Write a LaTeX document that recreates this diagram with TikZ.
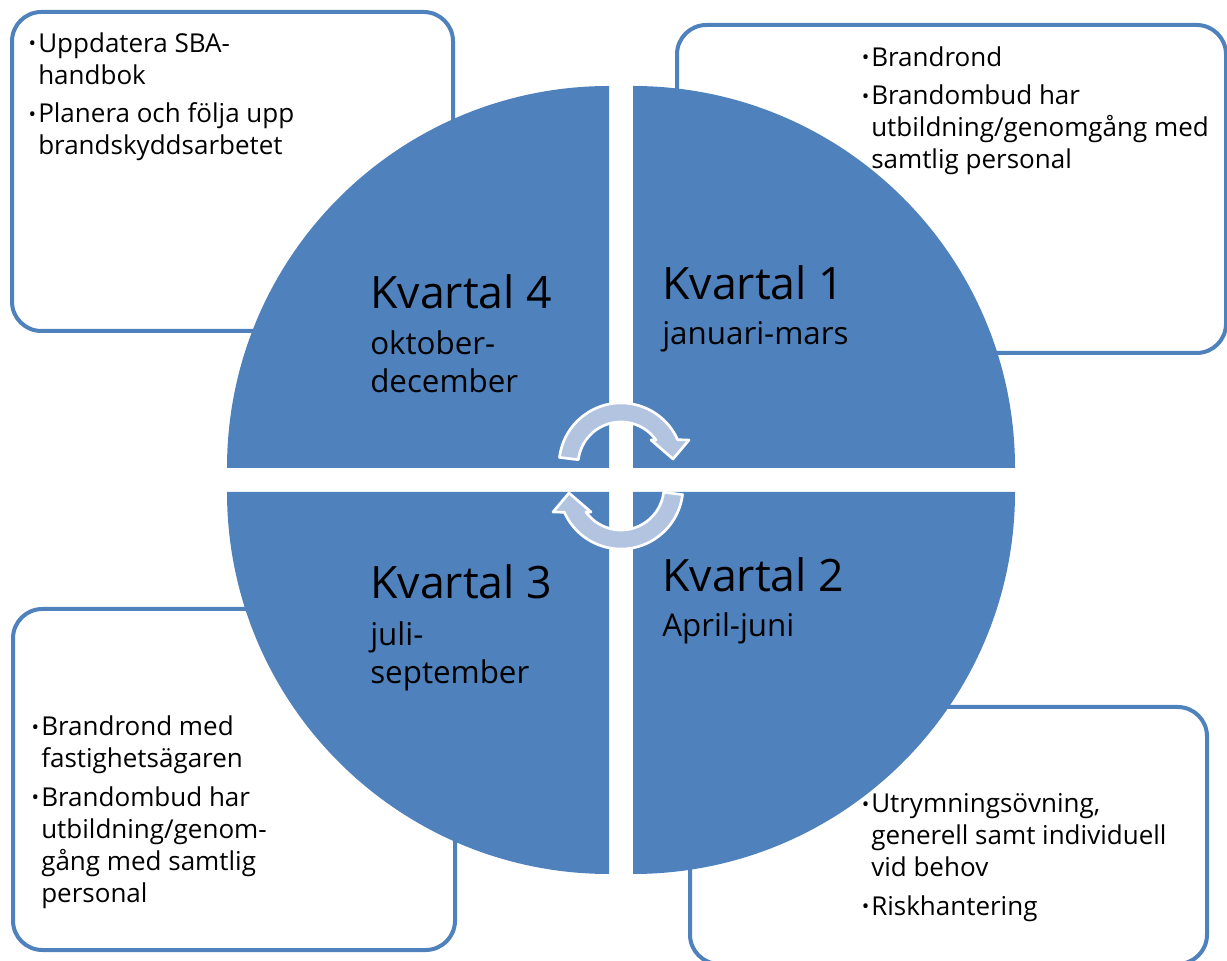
\documentclass[tikz,border=0pt]{standalone}
\usepackage{fontspec}
\setmainfont{Open Sans}
\usetikzlibrary{positioning}
\definecolor{quartblue}{RGB}{79,129,189}
\definecolor{arrowfill}{RGB}{178,196,224}
\newcommand{\bul}{\llap{{\fontsize{15pt}{15pt}\selectfont\raisebox{1pt}{•}}\hspace{1.5pt}}}
\tikzset{
   every path/.style={>=stealth},
   infobox/.style={draw=quartblue,line width=3pt,rounded corners=22pt,fill=white},
   quarter/.style={fill=quartblue},
   cycarrow/.style={fill=arrowfill,draw=white,line width=2pt,line join=round},
   listtext/.style={anchor=base west,align=left,inner sep=0pt,font=\fontsize{19.5pt}{24pt}\selectfont},
   headtext/.style={anchor=base west,inner sep=0pt,font=\fontsize{33.5pt}{40pt}\selectfont},
   subtext/.style={anchor=base west,align=left,inner sep=0pt,font=\fontsize{23.5pt}{28.5pt}\selectfont},
}
\newcommand{\cyclearrow}{%
   (559.5,502.6) arc[start angle=173,end angle=24,radius=62]
   -- (689,520) -- (673,501) -- (651,520) -- (656,520)
   arc[start angle=35.5,end angle=173,radius=43] -- cycle}

\begin{document}
\begin{tikzpicture}[x=0.75pt,y=0.75pt]
      \useasboundingbox (0,0) rectangle (1227,960);
      % boxes behind the circle
      \draw[infobox] (12,629) rectangle (453,948);
      \draw[infobox] (677,607) rectangle (1226,935);
      \draw[infobox] (13,10) rectangle (455,351);
      \draw[infobox] (690,-4) rectangle (1207,253);
      % the four quarters
      \fill[quarter] (609,492) -- (227,492) arc[start angle=180,end angle=90,radius=382] -- cycle;
      \fill[quarter] (633,492) -- (633,874) arc[start angle=90,end angle=0,radius=382] -- cycle;
      \fill[quarter] (609,468) -- (609,86) arc[start angle=270,end angle=180,radius=382] -- cycle;
      \fill[quarter] (633,468) -- (1015,468) arc[start angle=0,end angle=-90,radius=382] -- cycle;
      % cycle arrows
      \path[cycarrow] \cyclearrow;
      \begin{scope}[rotate around={180:(621,484)}]
        \path[cycarrow] \cyclearrow;
      \end{scope}
      % box texts (placed at the baseline of their last line)
      \node[listtext] (tl) at (38,805) {\bul Uppdatera SBA-\\handbok\\[5pt]\bul Planera och följa upp\\brandskyddsarbetet};
      \node[listtext] (tr) at (871,791) {\bul Brandrond\\[5pt]\bul Brandombud har\\utbildning/genomgång med\\samtlig personal};
      \node[listtext] (bl) at (41,58) {\bul Brandrond med\\fastighetsägaren\\[5pt]\bul Brandombud har\\utbildning/genom-\\gång med samtlig\\personal};
      \node[listtext] (br) at (871,45) {\bul Utrymningsövning,\\generell samt individuell\\vid behov\\[5pt]\bul Riskhantering};
      % quarter texts
      \node[headtext] (q4) at (370,651) {Kvartal 4};
      \node[subtext] (q4sub) at (370,567) {oktober-\\december};
      \node[headtext] (q1) at (662,660) {Kvartal 1};
      \node[subtext] (q1sub) at (662,615) {januari-mars};
      \node[headtext] (q3) at (370,361) {Kvartal 3};
      \node[subtext] (q3sub) at (370,276) {juli-\\september};
      \node[headtext] (q2) at (662,368) {Kvartal 2};
      \node[subtext] (q2sub) at (662,323) {April-juni};
\end{tikzpicture}
\end{document}
